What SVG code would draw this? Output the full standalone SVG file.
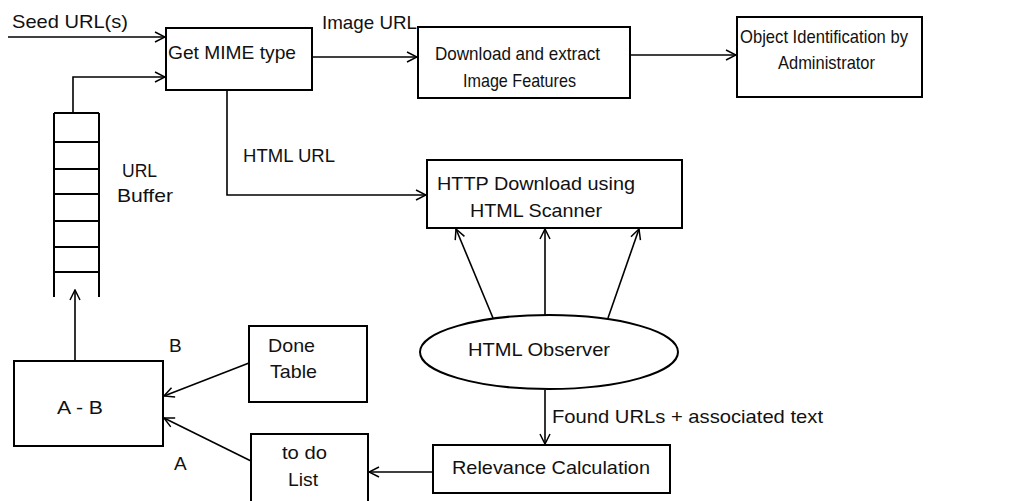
<svg xmlns="http://www.w3.org/2000/svg" width="1034" height="501" viewBox="0 0 1034 501">
<style>
.box{fill:none;stroke:#000;stroke-width:2}
.ln{fill:none;stroke:#000;stroke-width:1.6}
.t{font-family:"Liberation Sans",Arial,sans-serif;font-size:19px;fill:#111}
</style>
<defs>
<marker id="ah" viewBox="0 0 12 12" refX="11" refY="6" markerWidth="12" markerHeight="12" markerUnits="userSpaceOnUse" orient="auto">
<path d="M1,1 L11,6 L1,11" fill="none" stroke="#000" stroke-width="1.5"/>
</marker>
</defs>
<rect width="1034" height="501" fill="#fff"/>
<g id="connectors">
<line class="ln" x1="8" y1="37" x2="165" y2="37" marker-end="url(#ah)"/>
<polyline class="ln" points="73,113 73,77 165,77" marker-end="url(#ah)"/>
<line class="ln" x1="312" y1="57" x2="417" y2="57" marker-end="url(#ah)"/>
<line class="ln" x1="630" y1="55" x2="736" y2="55" marker-end="url(#ah)"/>
<polyline class="ln" points="227,90 227,195 426,195" marker-end="url(#ah)"/>
<line class="ln" x1="493" y1="318" x2="456" y2="229" marker-end="url(#ah)"/>
<line class="ln" x1="545" y1="315" x2="545" y2="229" marker-end="url(#ah)"/>
<line class="ln" x1="608" y1="318" x2="639" y2="229" marker-end="url(#ah)"/>
<line class="ln" x1="545" y1="390" x2="545" y2="444" marker-end="url(#ah)"/>
<line class="ln" x1="433" y1="472" x2="369" y2="472" marker-end="url(#ah)"/>
<line class="ln" x1="249" y1="363" x2="164" y2="396" marker-end="url(#ah)"/>
<line class="ln" x1="251" y1="461" x2="164" y2="418" marker-end="url(#ah)"/>
<line class="ln" x1="75" y1="360" x2="75" y2="290" marker-end="url(#ah)"/>
</g>
<g id="seed-label"><text class="t" x="12" y="28" textLength="116" lengthAdjust="spacingAndGlyphs">Seed URL(s)</text></g>
<g id="get-mime">
<rect class="box" x="166" y="28" width="146" height="62"/>
<text class="t" x="168" y="59" textLength="128" lengthAdjust="spacingAndGlyphs">Get MIME type</text>
</g>
<g id="image-url-label"><text class="t" x="322" y="29" textLength="95" lengthAdjust="spacingAndGlyphs">Image URL</text></g>
<g id="html-url-label"><text class="t" x="243" y="162" textLength="92" lengthAdjust="spacingAndGlyphs">HTML URL</text></g>
<g id="download-extract">
<rect class="box" x="418" y="27" width="212" height="71"/>
<text class="t" x="435" y="60" textLength="165" lengthAdjust="spacingAndGlyphs">Download and extract</text>
<text class="t" x="463" y="87" textLength="113" lengthAdjust="spacingAndGlyphs">Image Features</text>
</g>
<g id="object-identification">
<rect class="box" x="737" y="17" width="185" height="80"/>
<text class="t" x="740" y="43" textLength="168" lengthAdjust="spacingAndGlyphs">Object Identification by</text>
<text class="t" x="778" y="69" textLength="97" lengthAdjust="spacingAndGlyphs">Administrator</text>
</g>
<g id="url-buffer">
<path class="box" d="M54,113 L99,113 M54,142 L99,142 M54,169 L99,169 M54,194 L99,194 M54,221 L99,221 M54,247 L99,247 M54,272 L99,272 M54,113 L54,297 M99,113 L99,297"/>
<text class="t" x="122" y="177" textLength="35" lengthAdjust="spacingAndGlyphs">URL</text>
<text class="t" x="117" y="202" textLength="56" lengthAdjust="spacingAndGlyphs">Buffer</text>
</g>
<g id="http-download">
<rect class="box" x="427" y="160" width="255" height="68"/>
<text class="t" x="437" y="190" textLength="198" lengthAdjust="spacingAndGlyphs">HTTP Download using</text>
<text class="t" x="470" y="217" textLength="132" lengthAdjust="spacingAndGlyphs">HTML Scanner</text>
</g>
<g id="html-observer">
<ellipse class="box" cx="549" cy="352" rx="129" ry="37"/>
<text class="t" x="468" y="356" textLength="142" lengthAdjust="spacingAndGlyphs">HTML Observer</text>
</g>
<g id="found-label"><text class="t" x="552" y="423" textLength="271" lengthAdjust="spacingAndGlyphs">Found URLs + associated text</text></g>
<g id="relevance">
<rect class="box" x="433" y="445" width="237" height="48"/>
<text class="t" x="452" y="474" textLength="198" lengthAdjust="spacingAndGlyphs">Relevance Calculation</text>
</g>
<g id="done-table">
<rect class="box" x="249" y="326" width="118" height="76"/>
<text class="t" x="268" y="352" textLength="47" lengthAdjust="spacingAndGlyphs">Done</text>
<text class="t" x="270" y="378" textLength="47" lengthAdjust="spacingAndGlyphs">Table</text>
</g>
<g id="todo-list">
<rect class="box" x="251" y="434" width="117" height="70"/>
<text class="t" x="282" y="459" textLength="45" lengthAdjust="spacingAndGlyphs">to do</text>
<text class="t" x="288" y="486" textLength="30" lengthAdjust="spacingAndGlyphs">List</text>
</g>
<g id="a-minus-b">
<rect class="box" x="14" y="361" width="149" height="85"/>
<text class="t" x="57" y="414" textLength="46" lengthAdjust="spacingAndGlyphs">A - B</text>
</g>
<g id="labels-ab">
<text class="t" x="169" y="352">B</text>
<text class="t" x="174" y="470">A</text>
</g>
</svg>
